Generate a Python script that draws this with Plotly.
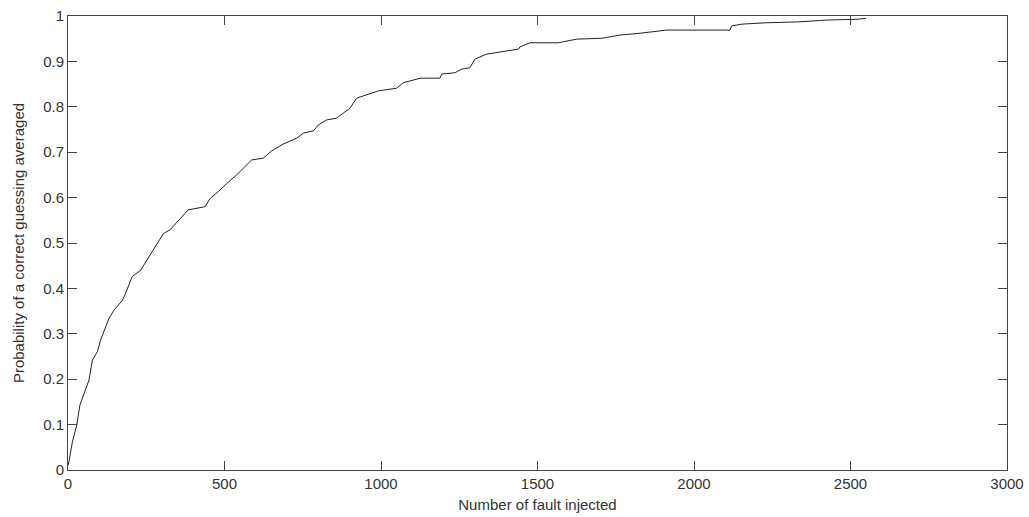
import plotly.graph_objects as go

faults = [0, 3, 14, 28, 38, 51, 67, 78, 94, 104, 115, 131, 147, 174, 184, 205, 232, 253,
          280, 305, 326, 350, 384, 438, 454, 480, 507, 539, 560, 587, 624, 651, 688, 731,
          752, 784, 800, 826, 858, 880, 901, 922, 954, 991, 1050, 1071, 1104, 1125, 1188,
          1194, 1236, 1258, 1284, 1300, 1337, 1380, 1439, 1444, 1476, 1566, 1625, 1705,
          1764, 1827, 1902, 1913, 2115, 2120, 2152, 2227, 2333, 2424, 2525, 2550]
prob = [0.010, 0.018, 0.062, 0.099, 0.143, 0.169, 0.198, 0.242, 0.261, 0.286, 0.305, 0.334,
        0.352, 0.374, 0.389, 0.426, 0.440, 0.463, 0.495, 0.521, 0.529, 0.548, 0.573, 0.580,
        0.598, 0.613, 0.631, 0.650, 0.665, 0.683, 0.687, 0.703, 0.718, 0.731, 0.742, 0.747,
        0.760, 0.771, 0.775, 0.787, 0.797, 0.819, 0.826, 0.835, 0.841, 0.853, 0.859, 0.863,
        0.863, 0.872, 0.875, 0.883, 0.886, 0.905, 0.916, 0.921, 0.927, 0.932, 0.941, 0.941,
        0.949, 0.951, 0.958, 0.962, 0.968, 0.969, 0.969, 0.978, 0.982, 0.985, 0.987, 0.991,
        0.993, 0.995]

x_ticks = [0, 500, 1000, 1500, 2000, 2500, 3000]
x_labels = ["0", "500", "1000", "1500", "2000", "2500", "3000"]
y_ticks = [0, 0.1, 0.2, 0.3, 0.4, 0.5, 0.6, 0.7, 0.8, 0.9, 1]
y_labels = ["0", "0.1", "0.2", "0.3", "0.4", "0.5", "0.6", "0.7", "0.8", "0.9", "1"]

x_title = "Number of fault injected"
y_title = "Probability of a correct guessing averaged"

fig = go.Figure()
fig.add_trace(go.Scatter(x=faults, y=prob, mode="lines",
                         line=dict(color="#222222", width=1), showlegend=False))

font = dict(family="Liberation Sans, Arial, sans-serif", size=15, color="#333333")
axis_common = dict(showline=True, linecolor="#444444", linewidth=1, mirror="ticks",
                   ticks="inside", ticklen=9, tickcolor="#444444", tickwidth=1,
                   showgrid=False, zeroline=False, tickfont=font, automargin=False)

fig.update_layout(
    width=1029, height=517,
    margin=dict(l=68, r=22, t=16, b=47),
    paper_bgcolor="white", plot_bgcolor="white",
    font=font,
    xaxis=dict(range=[0, 3000], tickvals=x_ticks, ticktext=x_labels,
               title=dict(text=x_title, font=font, standoff=8), **axis_common),
    yaxis=dict(range=[0, 1], tickvals=y_ticks, ticktext=y_labels,
               title=dict(text=y_title, font=font, standoff=14), **axis_common),
)

fig.write_html("out.html")
